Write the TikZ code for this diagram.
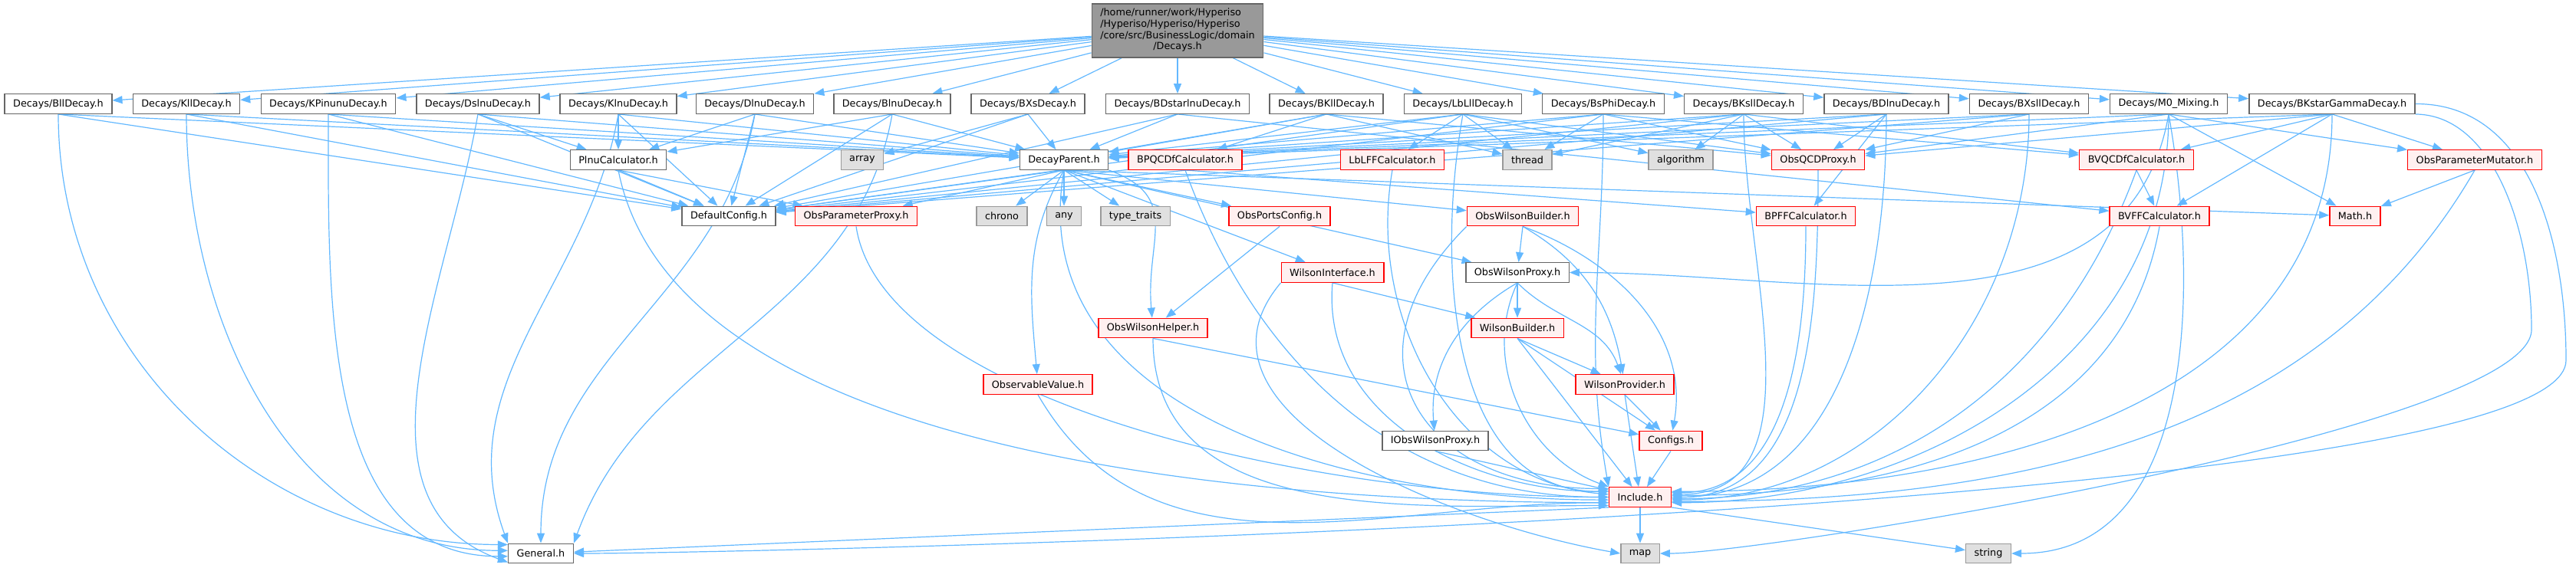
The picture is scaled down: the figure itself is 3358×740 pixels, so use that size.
\documentclass[tikz,border=0pt]{standalone}
\usepackage{fontspec}
\setmainfont{DejaVu Sans}
\usetikzlibrary{arrows.meta, backgrounds}

\definecolor{edgeblue}{HTML}{63B8FF}
\definecolor{boxgrey}{HTML}{666666}
\definecolor{rootfill}{HTML}{999999}
\definecolor{redfill}{HTML}{FFF0F0}
\definecolor{sysfill}{HTML}{E0E0E0}
\definecolor{sysline}{HTML}{999999}

\begin{document}
\begin{tikzpicture}
      [x=1pt, y=1pt,
      every node/.style={font=\fontsize{12.8}{14.7}\selectfont, inner xsep=11pt, inner ysep=2pt,
        minimum height=25.5pt, line width=1.4pt},
      hfile/.style={rectangle, draw=boxgrey, fill=white},
      mainfile/.style={rectangle, draw=boxgrey, fill=rootfill, minimum height=70pt},
      redfile/.style={rectangle, draw=red, fill=redfill},
      sysfile/.style={rectangle, draw=sysline, fill=sysfill},
      dep/.style={-{Triangle[length=13pt, width=10pt]}, draw=edgeblue, line width=1.2pt}]
      \useasboundingbox (0, 0) rectangle (3358, -740);
      \node (decays) at (1535, -40) [mainfile] {\begin{tabular}{@{}l@{}}/home/runner/work/Hyperiso\\/Hyperiso/Hyperiso/Hyperiso\\/core/src/BusinessLogic/domain\\\multicolumn{1}{@{}c@{}}{/Decays.h}\end{tabular}};

      \node (bll) at (76, -135.5) [hfile] {Decays/BllDecay.h};
      \node (kll) at (243, -135.5) [hfile] {Decays/KllDecay.h};
      \node (kpinunu) at (428, -135.5) [hfile] {Decays/KPinunuDecay.h};
      \node (dslnu) at (623, -135.5) [hfile] {Decays/DslnuDecay.h};
      \node (klnu) at (806, -135.5) [hfile] {Decays/KlnuDecay.h};
      \node (dlnu) at (984, -135.5) [hfile] {Decays/DlnuDecay.h};
      \node (blnu) at (1163, -135.5) [hfile] {Decays/BlnuDecay.h};
      \node (bxs) at (1340, -135.5) [hfile] {Decays/BXsDecay.h};
      \node (bdstarlnu) at (1535, -135.5) [hfile] {Decays/BDstarlnuDecay.h};
      \node (bkll) at (1729, -135.5) [hfile] {Decays/BKllDecay.h};
      \node (lblll) at (1907, -135.5) [hfile] {Decays/LbLllDecay.h};
      \node (bsphi) at (2090, -135.5) [hfile] {Decays/BsPhiDecay.h};
      \node (bksll) at (2273, -135.5) [hfile] {Decays/BKsllDecay.h};
      \node (bdlnu) at (2459, -135.5) [hfile] {Decays/BDlnuDecay.h};
      \node (bxsll) at (2645, -135.5) [hfile] {Decays/BXsllDecay.h};
      \node (mzero) at (2827, -135.5) [hfile] {Decays/M0\_Mixing.h};
      \node (bkstargamma) at (3040, -135.5) [hfile] {Decays/BKstarGammaDecay.h};

      \node (plnu) at (806, -208.5) [hfile] {PlnuCalculator.h};
      \node (array) at (1124, -208.5) [sysfile] {array};
      \node (decayparent) at (1387, -208.5) [hfile] {DecayParent.h};
      \node (bpqcdf) at (1545, -208.5) [redfile] {BPQCDfCalculator.h};
      \node (lblff) at (1815, -208.5) [redfile] {LbLFFCalculator.h};
      \node (thread) at (1991, -208.5) [sysfile] {thread};
      \node (algorithm) at (2191, -208.5) [sysfile] {algorithm};
      \node (obsqcd) at (2370, -208.5) [redfile] {ObsQCDProxy.h};
      \node (bvqcdf) at (2785, -208.5) [redfile] {BVQCDfCalculator.h};
      \node (obsparammut) at (3226, -208.5) [redfile] {ObsParameterMutator.h};

      \node (defaultconfig) at (950, -282) [hfile] {DefaultConfig.h};
      \node (obsparamproxy) at (1116, -282) [redfile] {ObsParameterProxy.h};
      \node (chrono) at (1306, -282) [sysfile] {chrono};
      \node (any) at (1387, -282) [sysfile] {any};
      \node (typetraits) at (1480, -282) [sysfile] {type\_traits};
      \node (obsports) at (1668, -282) [redfile] {ObsPortsConfig.h};
      \node (obswilsonbuilder) at (1985, -282) [redfile] {ObsWilsonBuilder.h};
      \node (bpff) at (2354, -282) [redfile] {BPFFCalculator.h};
      \node (bvff) at (2815, -282) [redfile] {BVFFCalculator.h};
      \node (math) at (3070, -282) [redfile] {Math.h};

      \node (wilsoninterface) at (1737, -355.5) [redfile] {WilsonInterface.h};
      \node (obswilsonproxy) at (1978, -355.5) [hfile] {ObsWilsonProxy.h};
      \node (obswilsonhelper) at (1503, -428) [redfile] {ObsWilsonHelper.h};
      \node (wilsonbuilder) at (1978, -428) [redfile] {WilsonBuilder.h};
      \node (observablevalue) at (1353, -501.5) [redfile] {ObservableValue.h};
      \node (wilsonprovider) at (2118, -501.5) [redfile] {WilsonProvider.h};
      \node (iobswilsonproxy) at (1871, -575) [hfile] {IObsWilsonProxy.h};
      \node (configs) at (2178, -575) [redfile] {Configs.h};
      \node (include) at (2138, -648.5) [redfile] {Include.h};
      \node (general) at (705, -722) [hfile] {General.h};
      \node (map) at (2138, -722) [sysfile] {map};
      \node (string) at (2592, -722) [sysfile] {string};
      \coordinate (lanea) at (3345, -470);
      \coordinate (laneb) at (3300, -430);

      \begin{pgfonlayer}{background}
      \path (decays) edge[dep] (bll) edge[dep] (kll) edge[dep] (kpinunu) edge[dep] (dslnu)
        edge[dep] (klnu) edge[dep] (dlnu) edge[dep] (blnu) edge[dep] (bxs)
        edge[dep] (bdstarlnu) edge[dep] (bkll) edge[dep] (lblll) edge[dep] (bsphi)
        edge[dep] (bksll) edge[dep] (bdlnu) edge[dep] (bxsll) edge[dep] (mzero)
        edge[dep] (bkstargamma);

      \path (bll.south) edge[dep] (decayparent) edge[dep] (defaultconfig)
        edge[dep, out=-90, in=180] (general.165);
      \path (kll.south) edge[dep] (decayparent) edge[dep] (defaultconfig)
        edge[dep, out=-90, in=180] (general.175);
      \path (kpinunu.south) edge[dep] (decayparent) edge[dep] (defaultconfig)
        edge[dep, out=-90, in=180] (general.185);
      \path (dslnu.south) edge[dep] (decayparent) edge[dep] (defaultconfig) edge[dep] (plnu)
        edge[dep, out=-100, in=160] (general.195);
      \path (klnu.south) edge[dep] (decayparent) edge[dep] (defaultconfig) edge[dep] (plnu)
        edge[dep, out=-100, in=110] (general.north west);
      \path (dlnu.south) edge[dep] (decayparent) edge[dep] (defaultconfig) edge[dep] (plnu)
        edge[dep, out=-100, in=90] (general.north);
      \path (blnu.south) edge[dep] (decayparent) edge[dep] (defaultconfig) edge[dep] (plnu)
        edge[dep, out=-100, in=70] (general.north east);
      \path (bxs.south) edge[dep] (array) edge[dep] (decayparent) edge[dep] (defaultconfig);
      \path (bdstarlnu.south) edge[dep] (decayparent) edge[dep] (defaultconfig) edge[dep] (bvff);
      \path (bkll.south) edge[dep] (decayparent) edge[dep] (bpqcdf) edge[dep] (thread)
        edge[dep] (obsqcd) edge[dep] (defaultconfig);
      \path (lblll.south) edge[dep] (decayparent) edge[dep] (lblff) edge[dep] (thread)
        edge[dep] (algorithm) edge[dep] (obsqcd) edge[dep] (defaultconfig)
        edge[dep, out=-100, in=180] (include.170);
      \path (bsphi.south) edge[dep] (decayparent) edge[dep] (thread) edge[dep] (obsqcd)
        edge[dep] (bvqcdf) edge[dep] (defaultconfig)
        edge[dep, out=-90, in=100] (include.north west);
      \path (bksll.south) edge[dep] (decayparent) edge[dep] (thread) edge[dep] (algorithm)
        edge[dep] (obsqcd) edge[dep] (bvqcdf) edge[dep] (defaultconfig)
        edge[dep, out=-90, in=0] (include.5);
      \path (bdlnu.south) edge[dep] (decayparent) edge[dep] (obsqcd) edge[dep] (bpff)
        edge[dep] (defaultconfig) edge[dep, out=-90, in=0] (include.0);
      \path (bxsll.south) edge[dep] (decayparent) edge[dep] (obsqcd) edge[dep] (defaultconfig)
        edge[dep, out=-90, in=0] (include.-5);
      \path (mzero.south) edge[dep] (decayparent) edge[dep] (obsqcd) edge[dep] (obsparammut)
        edge[dep] (math) edge[dep, out=-100, in=0] (obswilsonproxy.east)
        edge[dep, out=-90, in=0] (include.-10) edge[dep, out=-80, in=0] (string.east);
      \path (bkstargamma.south) edge[dep] (decayparent) edge[dep] (obsqcd) edge[dep] (bvqcdf)
        edge[dep] (bvff) edge[dep] (obsparammut) edge[dep, out=-90, in=0] (include.10);
      \draw[dep] (bkstargamma.east) .. controls (3300, -135) and (3345, -320) .. (lanea)
        .. controls (3345, -674) and (951, -722) .. (general.east);
      \draw[dep] (bkstargamma.south east) .. controls (3250, -150) and (3300, -300) .. (laneb)
        .. controls (3300, -560) and (2300, -722) .. (map.east);

      \path (plnu.south) edge[dep] (defaultconfig) edge[dep] (obsparamproxy);
      \draw[dep] (plnu.south) .. controls (880, -600) and (1650, -655) .. (include.190);
      \path (bpqcdf.south) edge[dep] (bpff) edge[dep, out=-70, in=180] (include.180);
      \path (lblff.south) edge[dep, out=-100, in=175] (include.175);
      \path (obsqcd.south) edge[dep, out=-90, in=0] (include.east);
      \path (bvqcdf.south) edge[dep] (bvff) edge[dep, out=-110, in=0] (include.-3);
      \path (bvff.south) edge[dep, out=-100, in=0] (include.3);
      \path (bpff.south) edge[dep, out=-90, in=0] (include.8);
      \path (obsparammut.south) edge[dep] (math);
      \draw[dep] (obsparammut.south) .. controls (3016, -586) and (2598, -654) .. (include.-8);

      \path (decayparent.south) edge[dep] (chrono) edge[dep] (any) edge[dep] (typetraits)
        edge[dep] (obsports) edge[dep] (obsparamproxy) edge[dep] (defaultconfig)
        edge[dep] (obswilsonbuilder) edge[dep] (wilsoninterface) edge[dep] (obswilsonproxy)
        edge[dep] (math) edge[dep, out=-120, in=95] (observablevalue)
        edge[dep, out=-100, in=180] (include.185);
      \draw[dep] (decayparent.south east) to[out=-20, in=95, looseness=1.3] (obswilsonhelper);

      \path (obsports.south) edge[dep] (obswilsonhelper);
      \path (obswilsonbuilder.south) edge[dep] (obswilsonproxy)
        edge[dep, out=-30, in=100] (wilsonprovider)
        edge[dep, out=-20, in=80] (configs);
      \draw[dep] (obswilsonbuilder.south west) to[out=-135, in=180, looseness=1.6] (include.165);
      \path (wilsoninterface.south) edge[dep] (wilsonbuilder)
        edge[dep, out=-95, in=180] (include.170);
      \draw[dep] (wilsoninterface.south west) to[out=-130, in=170] (map.west);
      \path (obswilsonproxy.south) edge[dep] (wilsonbuilder)
        edge[dep, out=-150, in=95] (iobswilsonproxy)
        edge[dep, out=-45, in=110] (wilsonprovider)
        edge[dep, out=-115, in=160] (include.north west);
      \path (obswilsonhelper.south) edge[dep] (configs)
        edge[dep, out=-90, in=180] (include.195);
      \path (wilsonbuilder.south) edge[dep] (wilsonprovider) edge[dep] (configs) edge[dep] (include);
      \path (observablevalue.south) edge[dep, out=-60, in=180] (include.190);
      \path (wilsonprovider.south) edge[dep] (configs) edge[dep] (include);
      \path (iobswilsonproxy.south) edge[dep] (include);
      \path (configs.south) edge[dep] (include);
      \draw[dep] (obsparamproxy.south) .. controls (1150, -520) and (1700, -648) .. (include.180);
      \path (include.south) edge[dep] (map);
      \path (include.south west) edge[dep] (general);
      \path (include.south east) edge[dep] (string);
      \end{pgfonlayer}
\end{tikzpicture}
\end{document}
